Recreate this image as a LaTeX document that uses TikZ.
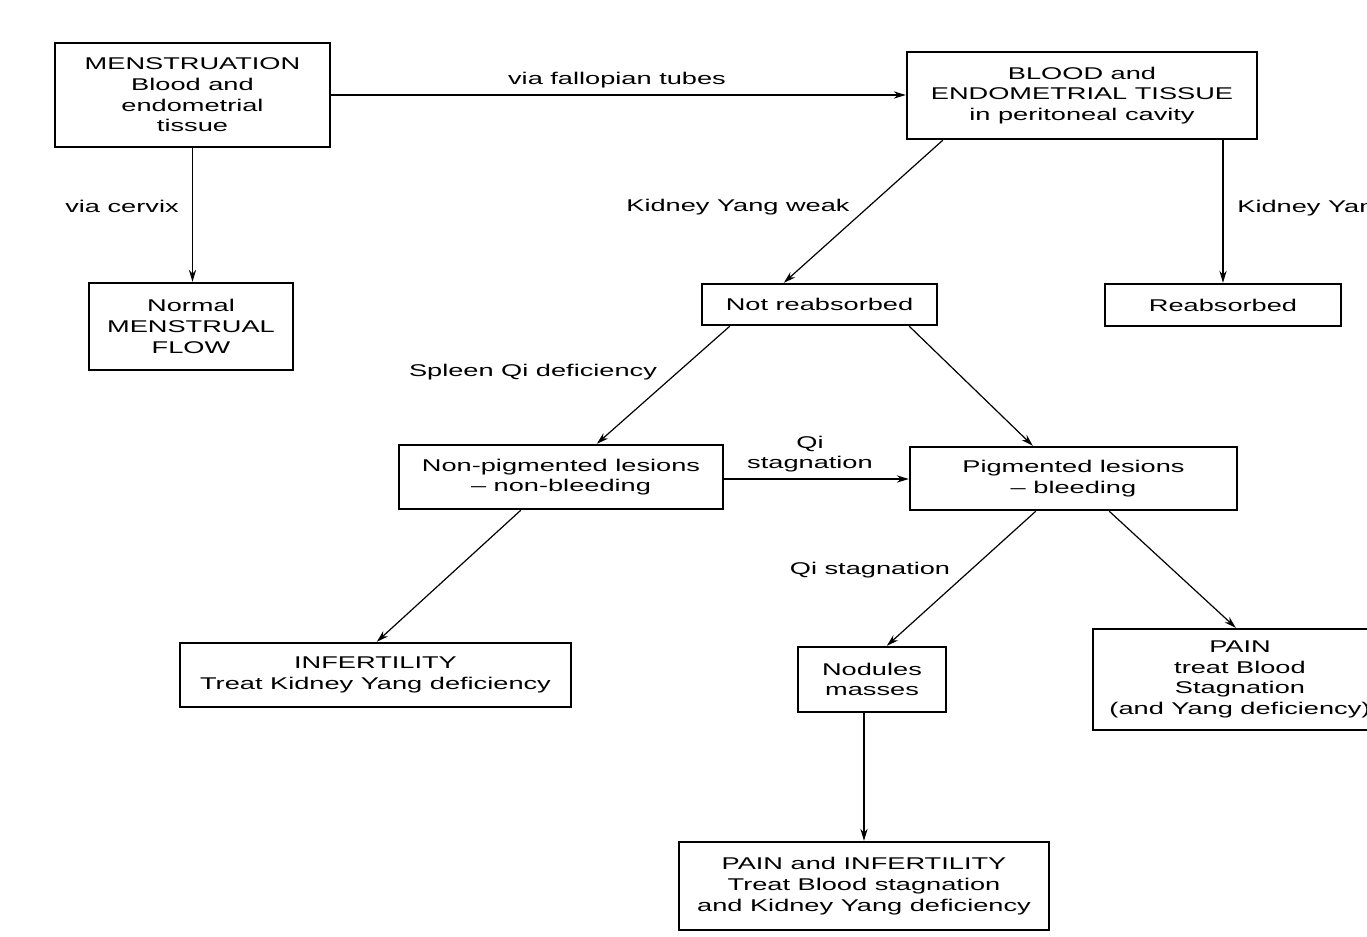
\documentclass[tikz,border=0pt]{standalone}
\usepackage{fontspec}
\setmainfont[FakeStretch=1.6]{Liberation Sans}
\usetikzlibrary{arrows.meta,calc}

\tikzset{
  box/.style={draw, line width=1.2pt, align=center, inner sep=0pt,
    font=\fontsize{8.5}{10.35}\selectfont},
  lbl/.style={align=center, inner sep=0pt, font=\fontsize{8.5}{10.35}\selectfont},
  arr/.style={-{Stealth[length=6pt,width=3.6pt]}, line width=0.6pt}
}

\begin{document}
\begin{tikzpicture}[x=0.5pt,y=-0.5pt]
        \clip (0,0) rectangle (1367,937);
        \fill[white] (0,0) rectangle (1367,937);

        % Draw the boxes
        \node[box, minimum width=137.5pt, minimum height=52pt] (menstr) at (192.5,95)
            {MENSTRUATION\\Blood and\\endometrial\\tissue};
        \node[box, minimum width=175pt, minimum height=43.5pt] (blood) at (1082,95.5)
            {BLOOD and\\ENDOMETRIAL TISSUE\\in peritoneal cavity};
        \node[box, minimum width=102pt, minimum height=43.5pt] (normal) at (191,326.5)
            {Normal\\MENSTRUAL\\FLOW};
        \node[box, minimum width=117.5pt, minimum height=20.5pt] (notreab) at (819.5,304.5)
            {Not reabsorbed};
        \node[box, minimum width=118pt, minimum height=21pt] (reab) at (1223,305)
            {Reabsorbed};
        \node[box, minimum width=162pt, minimum height=32pt] (nonpig) at (561,477)
            {Non-pigmented lesions\\-- non-bleeding};
        \node[box, minimum width=163.5pt, minimum height=31.5pt] (pig) at (1073.5,478.5)
            {Pigmented lesions\\-- bleeding};
        \node[box, minimum width=195.5pt, minimum height=32pt] (infert) at (375.5,675)
            {INFERTILITY\\Treat Kidney Yang deficiency};
        \node[box, minimum width=74pt, minimum height=32.5pt] (nodules) at (872,679.5)
            {Nodules\\masses};
        \node[box, minimum width=147pt, minimum height=50.5pt] (pain) at (1240,679.5)
            {PAIN\\treat Blood\\Stagnation\\(and Yang deficiency)};
        \node[box, minimum width=185pt, minimum height=44pt] (pif) at (864,886)
            {PAIN and INFERTILITY\\Treat Blood stagnation\\and Kidney Yang deficiency};

        % Draw the arrows
        \draw[arr] (menstr.east) -- (menstr.east -| blood.west);
        \draw[arr] (menstr.south) -- (menstr.south |- normal.north);
        \draw[arr] ($(blood.south west)+(37,0)$) -- ($(notreab.north west)+(83,0)$);
        \draw[arr] (reab.north |- blood.south) -- (reab.north);
        \draw[arr] ($(notreab.south west)+(29,0)$) -- ($(nonpig.north west)+(199,0)$);
        \draw[arr] ($(notreab.south east)+(-29,0)$) -- ($(pig.north west)+(124,0)$);
        \draw[arr] (nonpig.east |- 0,479) -- (pig.west |- 0,479);
        \draw[arr] ($(nonpig.south west)+(123,0)$) -- ($(infert.north west)+(198,0)$);
        \draw[arr] ($(pig.south west)+(127,0)$) -- ($(nodules.north west)+(90,0)$);
        \draw[arr] ($(pig.south east)+(-129,0)$) -- ($(pain.north west)+(144,0)$);
        \draw[arr] (pif.north |- nodules.south) -- (pif.north);

        % Labels on the arrows
        \node[lbl] (lfall) at (617,80) {via fallopian tubes};
        \node[lbl] (lcerv) at (122,206) {via cervix};
        \node[lbl] (lweak) at (738,207) {Kidney Yang weak};
        \node[lbl, anchor=west] (lstrong) at (1237,208) {Kidney Yang};
        \node[lbl] (lspleen) at (533,372) {Spleen Qi deficiency};
        \node[lbl] (lqi) at (810,454) {Qi\\stagnation};
        \node[lbl] (lqistag) at (870,570) {Qi stagnation};
\end{tikzpicture}
\end{document}
